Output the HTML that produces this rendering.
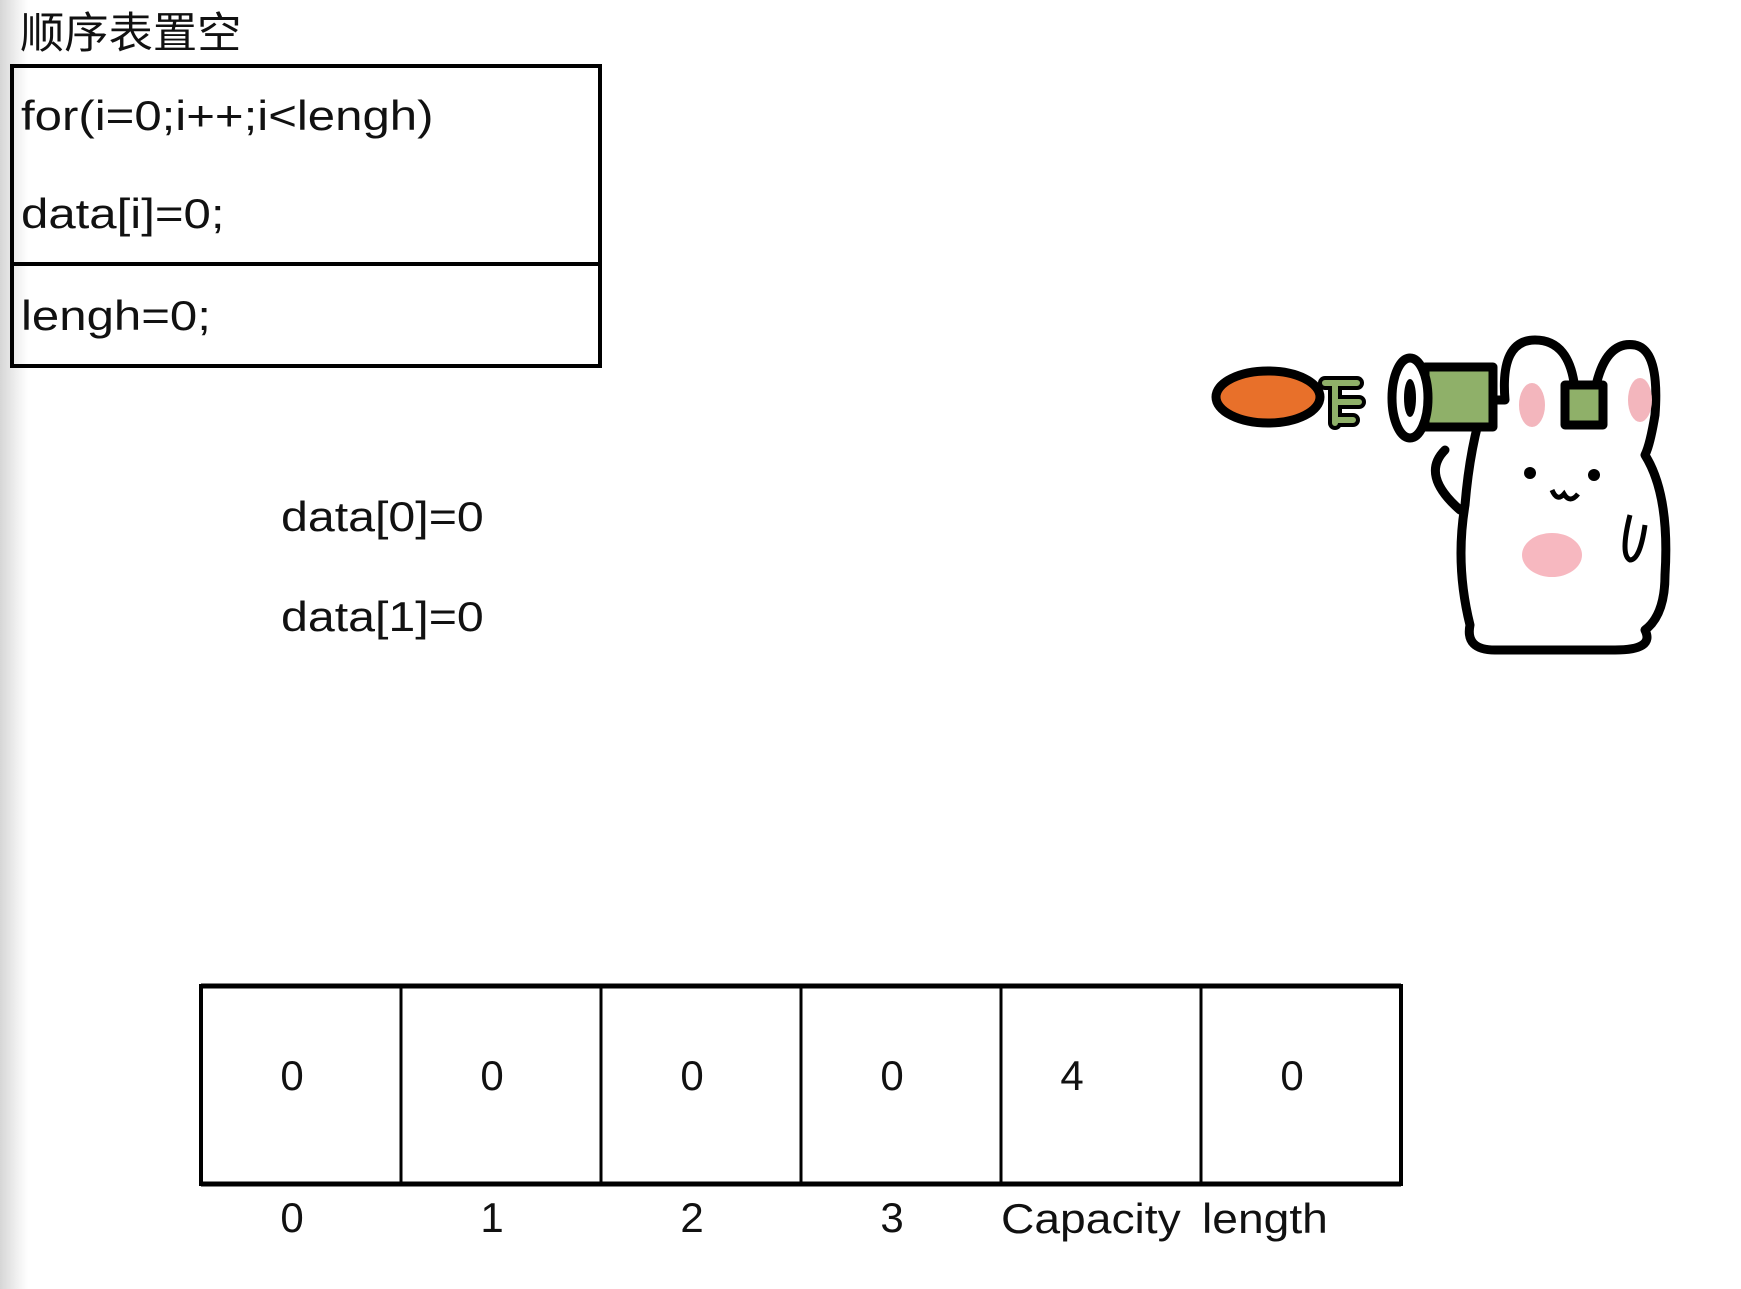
<!DOCTYPE html>
<html><head><meta charset="utf-8"><style>
body{margin:0;width:1741px;height:1289px;background:#fff;position:relative;overflow:hidden;font-family:"Liberation Sans","Noto Sans CJK SC",sans-serif;color:#111}
.t{position:absolute;white-space:nowrap;line-height:1;transform-origin:left top}
.strip{position:absolute;left:0;top:0;width:28px;height:1289px;background:linear-gradient(to right,#d6d6d6,#f4f4f4 70%,#fff)}
</style></head><body>
<div class="strip"></div>
<div class="t" style="left:20px;top:13px;font-size:43px;transform:scaleX(1.03)">顺序表置空</div>
<div style="position:absolute;left:10px;top:64px;width:584px;height:296px;border:4px solid #000;"></div>
<div style="position:absolute;left:10px;top:262px;width:592px;height:4px;background:#000;"></div>
<div class="t" style="left:21px;top:95px;font-size:42px;transform:scaleX(1.17)">for(i=0;i++;i&lt;lengh)</div>
<div class="t" style="left:21px;top:193px;font-size:42px;transform:scaleX(1.17)">data[i]=0;</div>
<div class="t" style="left:21px;top:295px;font-size:42px;transform:scaleX(1.17)">lengh=0;</div>
<div class="t" style="left:281px;top:496px;font-size:42px;transform:scaleX(1.15)">data[0]=0</div>
<div class="t" style="left:281px;top:596px;font-size:42px;transform:scaleX(1.15)">data[1]=0</div>
<div class="t" style="left:1001px;top:1198px;font-size:42px;transform:scaleX(1.1)">Capacity</div>
<div class="t" style="left:1202px;top:1198px;font-size:42px;transform:scaleX(1.1)">length</div>
<svg style="position:absolute;left:0;top:0" width="1741" height="1289">
<g stroke="#000" fill="none">
<rect x="201" y="986" width="1200" height="198" stroke-width="4"/>
<line x1="201" y1="1184" x2="1401" y2="1184" stroke-width="5"/>
<line x1="201" y1="986" x2="1401" y2="986" stroke-width="5"/>
<g stroke-width="3"><line x1="401" y1="986" x2="401" y2="1184"/><line x1="601" y1="986" x2="601" y2="1184"/><line x1="801" y1="986" x2="801" y2="1184"/><line x1="1001" y1="986" x2="1001" y2="1184"/><line x1="1201" y1="986" x2="1201" y2="1184"/></g>
</g>
<g font-family="Liberation Sans, sans-serif" font-size="42" fill="#111" text-anchor="middle">
<text x="292" y="1090">0</text><text x="492" y="1090">0</text><text x="692" y="1090">0</text><text x="892" y="1090">0</text><text x="1072" y="1090">4</text><text x="1292" y="1090">0</text>
<text x="292" y="1232">0</text><text x="492" y="1232">1</text><text x="692" y="1232">2</text><text x="892" y="1232">3</text>
</g>
<!-- bunny -->
<g stroke="#000" stroke-width="9" stroke-linejoin="round" stroke-linecap="round">
<ellipse cx="1268" cy="397" rx="52" ry="26" fill="#e8702a"/>
<path d="M1325 383 h32 M1335 383 v40 M1335 402 h24 M1335 420 h18" stroke="#000" stroke-width="14"/>
<path d="M1325 383 h32 M1335 383 v40 M1335 402 h24 M1335 420 h18" stroke="#8fb069" stroke-width="6"/>
<path d="M1445 450 q-25 25 15 60" fill="none"/>
<path d="M1505 400 q-5 -60 30 -60 q35 0 40 50 l20 0 q10 -50 40 -45 q25 5 20 70 q-5 30 -10 40 q25 40 20 120 q0 40 -20 55 q10 20 -30 20 l-120 0 q-30 0 -25 -25 q-15 -60 -5 -120 q5 -60 20 -105 z" fill="#fff"/>
<rect x="1425" y="367" width="68" height="60" fill="#8fb069"/>
<ellipse cx="1410" cy="398" rx="18" ry="40" fill="#fff"/>
<ellipse cx="1410" cy="398" rx="5" ry="18" fill="#000" stroke-width="2"/>
<rect x="1565" y="385" width="38" height="40" fill="#8fb069"/>
</g>
<ellipse cx="1532" cy="405" rx="13" ry="22" fill="#f3b6bd"/>
<ellipse cx="1640" cy="400" rx="12" ry="22" fill="#f3b6bd"/>
<ellipse cx="1552" cy="555" rx="30" ry="22" fill="#f7b8c0"/>
<circle cx="1530" cy="473" r="6" fill="#000"/><circle cx="1594" cy="475" r="6" fill="#000"/>
<path d="M1552 490 q5 12 12 4 q6 10 14 0" stroke="#000" stroke-width="5" fill="none"/>
<path d="M1630 515 q-10 40 0 45 q10 0 15 -35" stroke="#000" stroke-width="5" fill="none"/>
</svg>
</body></html>
